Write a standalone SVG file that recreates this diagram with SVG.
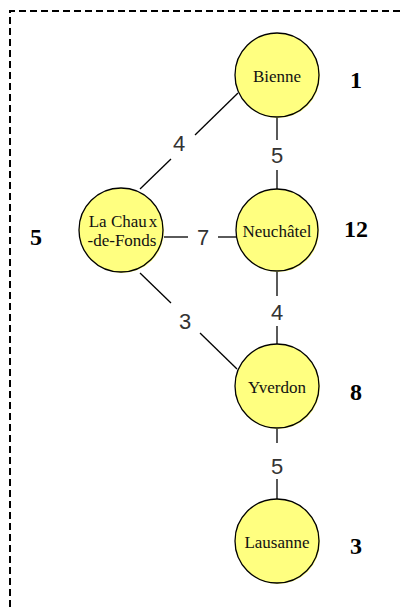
<svg xmlns="http://www.w3.org/2000/svg" width="400" height="607" viewBox="0 0 400 607">
<style>
.node{fill:#ffff80;stroke:#000;stroke-width:1.3}
.shadow{fill:#ffff80;stroke:none}
.nl{font-family:"Liberation Serif",serif;font-size:17px;fill:#111;text-anchor:middle}
.el{font-family:"Liberation Sans",sans-serif;font-size:22px;fill:#333;text-anchor:middle}
.num{font-family:"Liberation Serif",serif;font-size:24px;font-weight:bold;fill:#000;text-anchor:middle}
.edge{stroke:#000;stroke-width:1.3;fill:none}
</style>
<rect width="400" height="607" fill="#fff"/>
<path d="M10,607 V11 H400" fill="none" stroke="#000" stroke-width="2" stroke-dasharray="7,4"/>
<g id="connectors">
<line class="edge" x1="277" y1="117" x2="277" y2="140"/>
<line class="edge" x1="277" y1="170" x2="277" y2="189"/>
<line class="edge" x1="277" y1="272" x2="277" y2="296"/>
<line class="edge" x1="277" y1="326" x2="277" y2="344"/>
<line class="edge" x1="277" y1="428" x2="277" y2="443"/>
<line class="edge" x1="277" y1="479" x2="277" y2="499"/>
<line class="edge" x1="140" y1="189" x2="171" y2="159"/>
<line class="edge" x1="195" y1="135" x2="238" y2="93"/>
<line class="edge" x1="164" y1="237" x2="188" y2="237"/>
<line class="edge" x1="218" y1="237" x2="236" y2="237"/>
<line class="edge" x1="140" y1="273" x2="171" y2="303"/>
<line class="edge" x1="200" y1="333" x2="237" y2="369"/>
<text class="el" x="277" y="163">5</text>
<text class="el" x="277" y="320">4</text>
<text class="el" x="277" y="474">5</text>
<text class="el" x="179" y="151">4</text>
<text class="el" x="203" y="245">7</text>
<text class="el" x="185" y="329">3</text>
</g>
<g id="bienne">
<circle class="shadow" cx="278" cy="76" r="42"/>
<circle class="node" cx="277" cy="75" r="42"/>
<text class="nl" x="277" y="82">Bienne</text>
</g>
<g id="lachaux">
<circle class="shadow" cx="122" cy="231" r="42"/>
<circle class="node" cx="121" cy="230" r="42"/>
<text class="nl" x="123" y="227">La Chau<tspan dx="2">x</tspan></text>
<text class="nl" x="122" y="246">-de-Fonds</text>
</g>
<g id="neuchatel">
<circle class="shadow" cx="278" cy="231" r="41"/>
<circle class="node" cx="277" cy="230" r="41"/>
<text class="nl" x="277" y="237">Neuchâtel</text>
</g>
<g id="yverdon">
<circle class="shadow" cx="278" cy="387" r="42"/>
<circle class="node" cx="277" cy="386" r="42"/>
<text class="nl" x="277" y="393">Yverdon</text>
</g>
<g id="lausanne">
<circle class="shadow" cx="278" cy="542" r="42"/>
<circle class="node" cx="277" cy="541" r="42"/>
<text class="nl" x="277" y="548">Lausanne</text>
</g>
<g id="numbers">
<text class="num" x="356" y="88">1</text>
<text class="num" x="356" y="237">12</text>
<text class="num" x="356" y="400">8</text>
<text class="num" x="356" y="554">3</text>
<text class="num" x="36" y="245">5</text>
</g>
</svg>
